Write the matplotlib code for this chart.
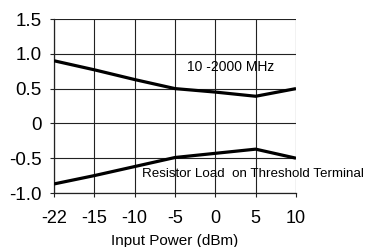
import matplotlib
matplotlib.use("Agg")
import matplotlib.pyplot as plt

plt.rcParams['font.family'] = ['Liberation Sans', 'DejaVu Sans']

x_labels = ['-22', '-15', '-10', '-5', '0', '5', '10']
upper = [0.90, 0.77, 0.63, 0.50, 0.45, 0.39, 0.50]
lower = [-0.87, -0.75, -0.62, -0.49, -0.43, -0.37, -0.50]
y_ticks = [-1.0, -0.5, 0, 0.5, 1.0, 1.5]
y_labels = ['-1.0', '-0.5', '0', '0.5', '1.0', '1.5']

fig = plt.figure(figsize=(3.67, 2.47), dpi=100)
ax = fig.add_axes([54/367, 1-193/247, (296-54)/367, (193-19)/247])

xs = list(range(len(x_labels)))
ax.plot(xs, upper, color='black', lw=2.3, solid_capstyle='butt', zorder=3)
ax.plot(xs, lower, color='black', lw=2.3, solid_capstyle='butt', zorder=3)

ax.set_xlim(0, len(x_labels) - 1)
ax.set_ylim(-1.0, 1.5)
ax.set_xticks(xs)
ax.set_xticklabels(x_labels, fontsize=13)
ax.set_yticks(y_ticks)
ax.set_yticklabels(y_labels, fontsize=13.5)
ax.tick_params(axis='x', direction='out', length=3, width=0.8, color='#222222', pad=9)
ax.tick_params(axis='y', direction='out', length=3, width=0.8, color='#222222', pad=6)
ax.grid(True, color='#222222', lw=0.8)
for s in ['top', 'right']:
    ax.spines[s].set_visible(False)
for s in ['left', 'bottom']:
    ax.spines[s].set_color('#222222')
    ax.spines[s].set_linewidth(0.9)

ax.set_xlabel('Input Power (dBm)', fontsize=11, labelpad=5)

fig.text(187/367, 1-67/247, '10 -2000 MHz', fontsize=10, ha='left', va='center')
fig.text(142/367, 1-174/247, 'Resistor Load  on Threshold Terminal', fontsize=9.6, ha='left', va='center')

fig.savefig('out.png', dpi=100)
